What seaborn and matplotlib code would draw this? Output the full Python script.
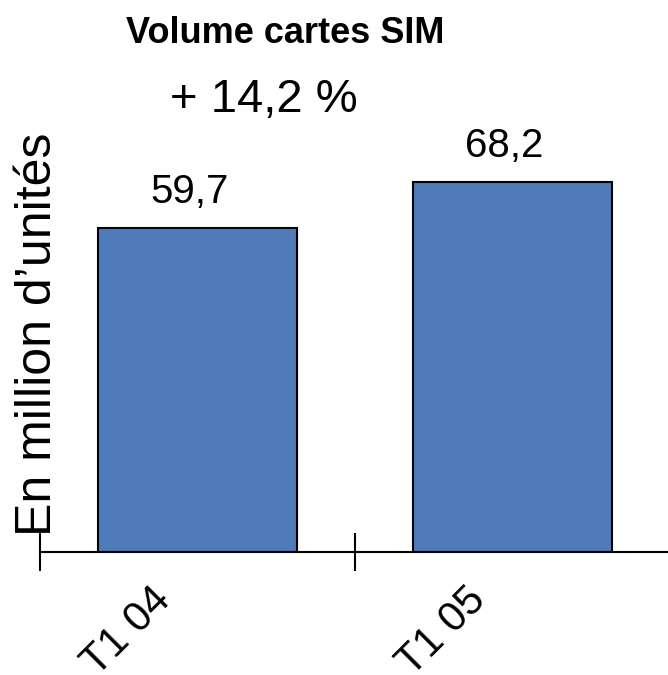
import matplotlib
matplotlib.use("Agg")
import matplotlib.pyplot as plt
from matplotlib.transforms import ScaledTranslation
import seaborn as sns
import pandas as pd

periods = ["T1 04", "T1 05"]
volumes = [59.7, 68.2]
value_labels = ["59,7", "68,2"]
growth_label = "+ 14,2 %"

sns.set_style("white")
plt.rcParams['font.family'] = ['Liberation Sans', 'DejaVu Sans']
plt.rcParams['text.color'] = 'black'
plt.rcParams['axes.labelcolor'] = 'black'
plt.rcParams['xtick.color'] = 'black'

df = pd.DataFrame({"period": periods, "volume": volumes})

fig = plt.figure(figsize=(6.68, 6.75), dpi=100)
ax = fig.add_axes([40 / 668, 123 / 675, 630 / 668, 434.4 / 675])

sns.barplot(data=df, x="period", y="volume", color="#4F7BBA", saturation=1,
            width=0.63, edgecolor="black", linewidth=1.5, ax=ax)

ax.set_xlim(-0.5, 1.5)
ax.set_ylim(0, 80)
labels = ax.bar_label(ax.containers[0], labels=value_labels, padding=12, fontsize=29)
for t in labels:
    t.xyann = (-6, 12)

for side in ["top", "right", "left"]:
    ax.spines[side].set_visible(False)
ax.spines["bottom"].set_linewidth(1.5)
ax.spines["bottom"].set_color("black")
ax.spines["bottom"].set_clip_on(False)
ax.set_yticks([])

# ticks between categories, labels under the bars
ax.set_xticks([-0.5, 0.5, 1.5])
ax.set_xticklabels([])
ax.set_xticks([0, 1], minor=True)
ax.set_xticklabels(periods, minor=True, rotation=45, ha="right",
                   rotation_mode="anchor", fontsize=30)
ax.tick_params(axis="x", which="major", direction="inout", length=28,
               width=1.5, color="black", bottom=True)
ax.tick_params(axis="x", which="minor", length=0, pad=20)
for lab in ax.get_xticklabels(minor=True):
    lab.set_transform(lab.get_transform() + ScaledTranslation(-0.47, 0, fig.dpi_scale_trans))

ax.set_xlabel("")
ax.set_ylabel("En million d\u2019unités", fontsize=36, va="center")
ax.yaxis.set_label_coords(-0.003, 0.5)

fig.text(285 / 668, 1 - 43 / 675, "Volume cartes SIM", ha="center", va="baseline",
         fontsize=26, fontweight="bold")
fig.text(264 / 668, 1 - 112 / 675, growth_label, ha="center", va="baseline",
         fontsize=34)

fig.savefig("out.png", dpi=100)
